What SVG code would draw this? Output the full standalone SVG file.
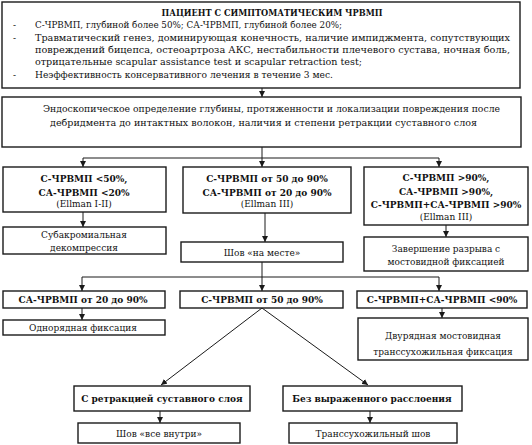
<svg xmlns="http://www.w3.org/2000/svg" width="532" height="445" viewBox="0 0 532 445">
<style>
.b{fill:#fff;stroke:#1a1a1a;stroke-width:1.4}
.t{font-family:"DejaVu Serif","Liberation Serif",serif;font-size:9px;fill:#111}
.h{font-family:"DejaVu Serif","Liberation Serif",serif;font-size:9px;font-weight:bold;fill:#111}
.c{text-anchor:middle}
.l{stroke:#1a1a1a;stroke-width:1;fill:none}
</style>
<defs>
<marker id="a" viewBox="0 0 6 6" refX="6" refY="3" markerWidth="6" markerHeight="6" orient="auto" markerUnits="userSpaceOnUse">
<path d="M0,0 L6,3 L0,6 z" fill="#1a1a1a"/>
</marker>
</defs>
<rect width="532" height="445" fill="#fff"/>
<g id="connectors">
<line class="l" x1="262" y1="88" x2="262" y2="97" marker-end="url(#a)"/>
<line class="l" x1="262" y1="147" x2="262" y2="158"/>
<line class="l" x1="83" y1="158" x2="439" y2="158"/>
<line class="l" x1="83" y1="158" x2="83" y2="167" marker-end="url(#a)"/>
<line class="l" x1="262" y1="158" x2="262" y2="167" marker-end="url(#a)"/>
<line class="l" x1="439" y1="158" x2="439" y2="167" marker-end="url(#a)"/>
<line class="l" x1="83" y1="212" x2="83" y2="227" marker-end="url(#a)"/>
<line class="l" x1="265" y1="213" x2="265" y2="242" marker-end="url(#a)"/>
<line class="l" x1="446" y1="225" x2="446" y2="237" marker-end="url(#a)"/>
<line class="l" x1="262" y1="262" x2="262" y2="277"/>
<line class="l" x1="82" y1="277" x2="439" y2="277"/>
<line class="l" x1="82" y1="277" x2="82" y2="291" marker-end="url(#a)"/>
<line class="l" x1="262" y1="277" x2="262" y2="291" marker-end="url(#a)"/>
<line class="l" x1="439" y1="277" x2="439" y2="291" marker-end="url(#a)"/>
<line class="l" x1="82" y1="308" x2="82" y2="320" marker-end="url(#a)"/>
<line class="l" x1="442" y1="308" x2="442" y2="318" marker-end="url(#a)"/>
<line class="l" x1="262" y1="308" x2="161" y2="385" marker-end="url(#a)"/>
<line class="l" x1="262" y1="308" x2="368" y2="385" marker-end="url(#a)"/>
<line class="l" x1="160" y1="411" x2="160" y2="423" marker-end="url(#a)"/>
<line class="l" x1="370" y1="411" x2="370" y2="423" marker-end="url(#a)"/>
</g>
<g id="n1">
<rect class="b" x="2" y="2" width="518" height="86"/>
<text class="h c" x="272" y="15.5" textLength="221" lengthAdjust="spacingAndGlyphs">ПАЦИЕНТ С СИМПТОМАТИЧЕСКИМ ЧРВМП</text>
<text class="t" x="13" y="28">-</text>
<text class="t" x="35" y="28" textLength="307" lengthAdjust="spacingAndGlyphs">С-ЧРВМП, глубиной более 50%; СА-ЧРВМП, глубиной более 20%;</text>
<text class="t" x="13" y="40.5">-</text>
<text class="t" x="35" y="40.5" textLength="475" lengthAdjust="spacingAndGlyphs">Травматический генез, доминирующая конечность, наличие импиджмента, сопутствующих</text>
<text class="t" x="35" y="52.5" textLength="475" lengthAdjust="spacingAndGlyphs">повреждений бицепса, остеоартроза АКС, нестабильности плечевого сустава, ночная боль,</text>
<text class="t" x="35" y="64.5" textLength="327" lengthAdjust="spacingAndGlyphs">отрицательные scapular assistance test и scapular retraction test;</text>
<text class="t" x="13" y="78">-</text>
<text class="t" x="35" y="78" textLength="298" lengthAdjust="spacingAndGlyphs">Неэффективность консервативного лечения в течение 3 мес.</text>
</g>
<g id="n2">
<rect class="b" x="2" y="97" width="519" height="50"/>
<text class="t" x="43" y="112" textLength="457" lengthAdjust="spacingAndGlyphs">Эндоскопическое определение глубины, протяженности и локализации повреждения после</text>
<text class="t" x="50" y="126" textLength="427" lengthAdjust="spacingAndGlyphs">дебридмента до интактных волокон, наличия и степени ретракции суставного слоя</text>
</g>
<g id="n3">
<rect class="b" x="3" y="167" width="163" height="45"/>
<text class="h c" x="84" y="182">С-ЧРВМП &lt;50%,</text>
<text class="h c" x="84" y="196">СА-ЧРВМП &lt;20%</text>
<text class="t c" x="84" y="207">(Ellman I-II)</text>
</g>
<g id="n4">
<rect class="b" x="183" y="167" width="168" height="46"/>
<text class="h c" x="267" y="182">С-ЧРВМП от 50 до 90%</text>
<text class="h c" x="267" y="196">СА-ЧРВМП от 20 до 90%</text>
<text class="t c" x="267" y="207">(Ellman III)</text>
</g>
<g id="n5">
<rect class="b" x="364" y="167" width="164" height="58"/>
<text class="h c" x="446" y="181">С-ЧРВМП &gt;90%,</text>
<text class="h c" x="446" y="195">СА-ЧРВМП &gt;90%,</text>
<text class="h c" x="446" y="208">С-ЧРВМП+СА-ЧРВМП &gt;90%</text>
<text class="t c" x="446" y="220">(Ellman III)</text>
</g>
<g id="n6">
<rect class="b" x="3" y="227" width="163" height="27"/>
<text class="t c" x="84" y="237.5">Субакромиальная</text>
<text class="t c" x="84" y="251">декомпрессия</text>
</g>
<g id="n7">
<rect class="b" x="181" y="242" width="162" height="20"/>
<text class="t c" x="262" y="255.5">Шов «на месте»</text>
</g>
<g id="n8">
<rect class="b" x="364" y="237" width="164" height="34"/>
<text class="t c" x="446" y="252">Завершение разрыва с</text>
<text class="t c" x="446" y="265">мостовидной фиксацией</text>
</g>
<g id="n9">
<rect class="b" x="3" y="291" width="162" height="17"/>
<text class="h c" x="83" y="303">СА-ЧРВМП от 20 до 90%</text>
</g>
<g id="n10">
<rect class="b" x="180" y="291" width="163" height="17"/>
<text class="h c" x="262" y="303">С-ЧРВМП от 50 до 90%</text>
</g>
<g id="n11">
<rect class="b" x="357" y="291" width="170" height="17"/>
<text class="h c" x="442" y="303">С-ЧРВМП+СА-ЧРВМП &lt;90%</text>
</g>
<g id="n12">
<rect class="b" x="3" y="320" width="162" height="15"/>
<text class="t c" x="83" y="331">Однорядная фиксация</text>
</g>
<g id="n13">
<rect class="b" x="358" y="318" width="170" height="42"/>
<text class="t c" x="443" y="339">Двурядная мостовидная</text>
<text class="t c" x="443" y="355">транссухожильная фиксация</text>
</g>
<g id="n14">
<rect class="b" x="74" y="386" width="176" height="25"/>
<text class="h c" x="162" y="401.5">С ретракцией суставного слоя</text>
</g>
<g id="n15">
<rect class="b" x="283" y="386" width="179" height="25"/>
<text class="h c" x="372" y="401.5">Без выраженного расслоения</text>
</g>
<g id="n16">
<rect class="b" x="78" y="423" width="162" height="20"/>
<text class="t c" x="159" y="436.5">Шов «все внутри»</text>
</g>
<g id="n17">
<rect class="b" x="289" y="423" width="168" height="20"/>
<text class="t c" x="373" y="436.5">Транссухожильный шов</text>
</g>
</svg>
